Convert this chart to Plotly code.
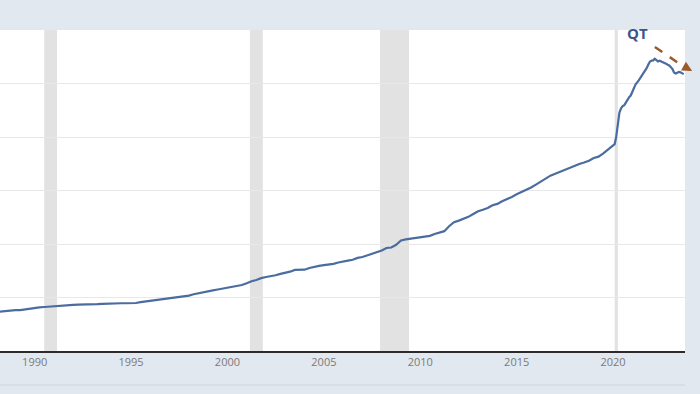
import plotly.graph_objects as go

# Quarterly dates/values (billions of dollars) 1988-2019, monthly 2020-2023
quarters = ["01", "04", "07", "10"]
years_q = list(range(1988, 2020))
m2_quarterly = [
    2910, 2960, 3000, 3020,
    3055, 3050, 3110, 3170,
    3230, 3260, 3290, 3320,
    3350, 3400, 3410, 3430,
    3450, 3460, 3460, 3480,
    3480, 3500, 3520, 3545,
    3560, 3570, 3570, 3570,
    3575, 3590, 3650, 3700,
    3740, 3790, 3830, 3870,
    3910, 3970, 4020, 4080,
    4140, 4240, 4300, 4410,
    4470, 4530, 4600, 4660,
    4700, 4780, 4850, 4930,
    5070, 5220, 5310, 5450,
    5530, 5580, 5660, 5770,
    5840, 5930, 6060, 6060,
    6080, 6210, 6260, 6360,
    6420, 6450, 6520, 6620,
    6710, 6760, 6820, 6960,
    7030, 7150, 7230, 7390,
    7510, 7700, 7740, 7940,
    8260, 8350, 8400, 8450,
    8480, 8540, 8610, 8750,
    8830, 8960, 9330, 9630,
    9750, 9890, 10030, 10240,
    10450, 10560, 10690, 10900,
    11000, 11200, 11340, 11520,
    11720, 11870, 12050, 12220,
    12440, 12650, 12860, 13110,
    13250, 13400, 13540, 13720,
    13850, 13980, 14090, 14220,
    14430, 14530, 14780, 15070,
]
m2_2020 = [15430, 15470, 16030, 17000, 17830, 18150, 18310, 18380, 18600, 18760, 18980, 19100]
m2_2021 = [19330, 19660, 19930, 20050, 20230, 20420, 20590, 20810, 20990, 21170, 21430, 21640]
m2_2022 = [21710, 21730, 21850, 21720, 21650, 21700, 21660, 21620, 21540, 21480, 21400, 21350]
m2_2023 = [21220, 21070, 20830, 20750, 20810, 20860, 20830, 20780, 20700]

recessions = [("1990-07-01", "1991-03-01"), ("2001-03-01", "2001-11-01"),
              ("2007-12-01", "2009-06-01"), ("2020-02-01", "2020-04-01")]
tick_years = [1990, 1995, 2000, 2005, 2010, 2015, 2020]

dates, values = [], []
i = 0
for y in years_q:
    for q in quarters:
        dates.append(f"{y}-{q}-01")
        values.append(m2_quarterly[i])
        i += 1
for y, arr in [(2020, m2_2020), (2021, m2_2021), (2022, m2_2022), (2023, m2_2023)]:
    for m, v in enumerate(arr):
        dates.append(f"{y}-{m+1:02d}-01")
        values.append(v)

fig = go.Figure()
fig.add_trace(go.Scatter(x=dates, y=values, mode="lines",
                         line=dict(color="#4a6c9f", width=2.2), showlegend=False))

BG = "#e1e8f0"
fig.update_layout(
    width=700, height=394,
    margin=dict(l=0, r=15, t=30, b=43),
    paper_bgcolor=BG, plot_bgcolor="white",
    font=dict(family="Open Sans, sans-serif"),
    xaxis=dict(type="date", range=["1988-03-15", "2023-09-25"],
               tickvals=[f"{y}-01-01" for y in tick_years],
               ticktext=[str(y) for y in tick_years],
               showgrid=False, showline=True, linecolor="#2b2b2b", linewidth=2,
               ticks="", tickfont=dict(size=11, color="#7a7a7a"), zeroline=False),
    yaxis=dict(range=[0, 24000], dtick=4000, showticklabels=False,
               showgrid=True, gridcolor="#e8e8e8", gridwidth=1, zeroline=False),
    annotations=[
        dict(text="<b>QT</b>", xref="paper", yref="paper", x=0.930, y=0.99,
             showarrow=False, font=dict(size=15, color="#3b5688"), xanchor="center", yanchor="middle"),
        dict(text="", xref="paper", yref="paper", x=1.0105, y=0.872, ax=-9, ay=-5,
             showarrow=True, arrowhead=2, arrowsize=0.8, arrowwidth=2.5, arrowcolor="#9a5b2c"),
    ],
)

for a, b in recessions:
    fig.add_vrect(x0=a, x1=b, fillcolor="#e2e2e2", opacity=1, line_width=0, layer="below")

fig.add_shape(type="line", xref="paper", yref="paper", x0=0.956, y0=0.947, x1=1.003, y1=0.879,
              line=dict(color="#9a5b2c", width=2.5, dash="dash"))
fig.add_shape(type="line", xref="paper", yref="paper", x0=0, y0=-0.106, x1=1, y1=-0.106,
              line=dict(color="#cdd5de", width=1))

fig.write_html("out.html", config={"displayModeBar": False},
               post_script="document.body.style.margin='0';")
